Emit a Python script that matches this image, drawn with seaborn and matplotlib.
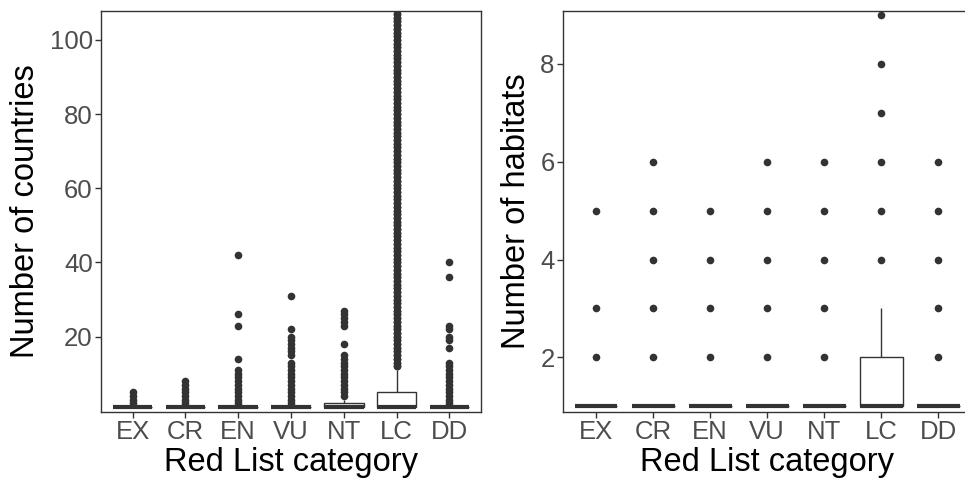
import matplotlib
matplotlib.use("Agg")
import matplotlib.pyplot as plt
import seaborn as sns
import pandas as pd

sns.set_theme(style="ticks")
plt.rcParams['font.family'] = ['Liberation Sans', 'DejaVu Sans']

categories = ["EX", "CR", "EN", "VU", "NT", "LC", "DD"]

# ---- Left panel: number of countries per species, (value, count) pairs ----
countries_EX = [(1, 100), (2, 1), (3, 1), (4, 1), (5, 1)]
countries_CR = [(1, 100), (2, 1), (3, 1), (4, 1), (5, 1), (6, 1), (7, 1), (8, 1)]
countries_EN = [(1, 100), (2, 1), (3, 1), (4, 1), (5, 1), (6, 1), (7, 1), (8, 1),
                (9, 1), (10, 1), (11, 1), (14, 1), (23, 1), (26, 1), (42, 1)]
countries_VU = [(1, 200), (2, 1), (3, 1), (4, 1), (5, 1), (6, 1), (7, 1), (8, 1),
                (9, 1), (10, 1), (11, 1), (12, 1), (13, 1), (15, 1), (16, 1),
                (17, 1), (18, 1), (19, 1), (20, 1), (22, 1), (31, 1)]
countries_NT = [(1, 80), (2, 30), (3, 5), (4, 1), (5, 1), (6, 1), (7, 1), (8, 1),
                (9, 1), (10, 1), (11, 1), (12, 1), (13, 1), (14, 1), (15, 1),
                (18, 1), (23, 1), (24, 1), (25, 1), (26, 1), (27, 1)]
countries_LC_box = [(1, 1000), (2, 100), (3, 100), (4, 100), (5, 300),
                    (6, 20), (7, 20), (8, 20), (9, 20), (10, 20), (11, 20)]
countries_LC_outliers = [12, 13, 14, 15, 16, 17, 18, 19, 20, 21, 22, 23, 24, 25,
                         26, 27, 28, 29, 30, 31, 32, 33, 34, 35, 36, 37, 38, 39,
                         40, 41, 42, 43, 44, 45, 46, 47, 48, 49, 50, 51, 52, 53,
                         54, 55, 56, 57, 58, 59, 60, 61, 62, 63, 64, 65, 66, 67,
                         68, 69, 70, 71, 72, 73, 74, 75, 76, 77, 78, 79, 80, 81,
                         82, 83, 84, 85, 86, 87, 88, 89, 90, 91, 92, 93, 94, 95,
                         96, 97, 98, 99, 100, 101, 102, 103, 104, 105, 106, 107,
                         108, 109, 110]
countries_DD = [(1, 100), (2, 1), (3, 1), (4, 1), (5, 1), (6, 1), (7, 1), (8, 1),
                (9, 1), (10, 1), (11, 1), (12, 1), (13, 1), (17, 1), (19, 1),
                (20, 1), (22, 1), (23, 1), (36, 1), (40, 1)]

# ---- Right panel: number of habitats per species, (value, count) pairs ----
habitats_EX = [(1, 50), (2, 1), (3, 1), (5, 1)]
habitats_CR = [(1, 80), (2, 1), (3, 1), (4, 1), (5, 1), (6, 1)]
habitats_EN = [(1, 100), (2, 1), (3, 1), (4, 1), (5, 1)]
habitats_VU = [(1, 150), (2, 1), (3, 1), (4, 1), (5, 1), (6, 1)]
habitats_NT = [(1, 100), (2, 1), (3, 1), (4, 1), (5, 1), (6, 1)]
habitats_LC = [(1, 600), (2, 350), (3, 40), (4, 1), (5, 1), (6, 1), (7, 1),
               (8, 1), (9, 1)]
habitats_DD = [(1, 100), (2, 1), (3, 1), (4, 1), (5, 1), (6, 1)]

countries_lists = [countries_EX, countries_CR, countries_EN, countries_VU,
                   countries_NT,
                   countries_LC_box + [(v, 2) for v in countries_LC_outliers],
                   countries_DD]
habitats_lists = [habitats_EX, habitats_CR, habitats_EN, habitats_VU,
                  habitats_NT, habitats_LC, habitats_DD]


def to_frame(lists):
    rows = []
    for cat, pairs in zip(categories, lists):
        for v, c in pairs:
            rows.extend([(cat, v)] * c)
    return pd.DataFrame(rows, columns=["category", "value"])


df_countries = to_frame(countries_lists)
df_habitats = to_frame(habitats_lists)

W, H = 965, 484
fig = plt.figure(figsize=(W / 100, H / 100), dpi=100)
ax1 = fig.add_axes([101 / W, 1 - 411.7 / H, 380 / W, 400.7 / H])
ax2 = fig.add_axes([563 / W, 1 - 411.7 / H, 408.5 / W, 400.7 / H])

dark = "#333333"
tick_grey = "#4D4D4D"

box_kw = dict(order=categories, color="white", linecolor=dark, linewidth=1.0,
              width=0.75, fliersize=5.5, whis=1.5, showcaps=False,
              flierprops=dict(marker="o", markerfacecolor=dark,
                              markeredgecolor=dark, markeredgewidth=0),
              medianprops=dict(linewidth=3.0, color=dark))

sns.boxplot(data=df_countries, x="category", y="value", ax=ax1, **box_kw)
sns.boxplot(data=df_habitats, x="category", y="value", ax=ax2, **box_kw)

ax1.set_xlim(-0.6, 6.6)
ax1.set_ylim(-0.24, 107.8)
ax1.set_yticks([20, 40, 60, 80, 100])
ax2.set_xlim(-0.58, 6.58)
ax2.set_ylim(0.888, 9.084)
ax2.set_yticks([2, 4, 6, 8])

for ax, ylab in [(ax1, "Number of countries"), (ax2, "Number of habitats")]:
    ax.set_xlabel("Red List category", fontsize=23.5, color="black", labelpad=2)
    ax.set_ylabel(ylab, fontsize=23.5, color="black", labelpad=6)
    ax.tick_params(axis="both", labelsize=18.5, labelcolor=tick_grey,
                   color=dark, length=4, width=1, pad=2)
    for s in ax.spines.values():
        s.set_visible(True)
        s.set_color(dark)
        s.set_linewidth(1.0)
    ax.grid(False)
    ax.set_facecolor("white")

fig.savefig("out.png", dpi=100, facecolor="white")
